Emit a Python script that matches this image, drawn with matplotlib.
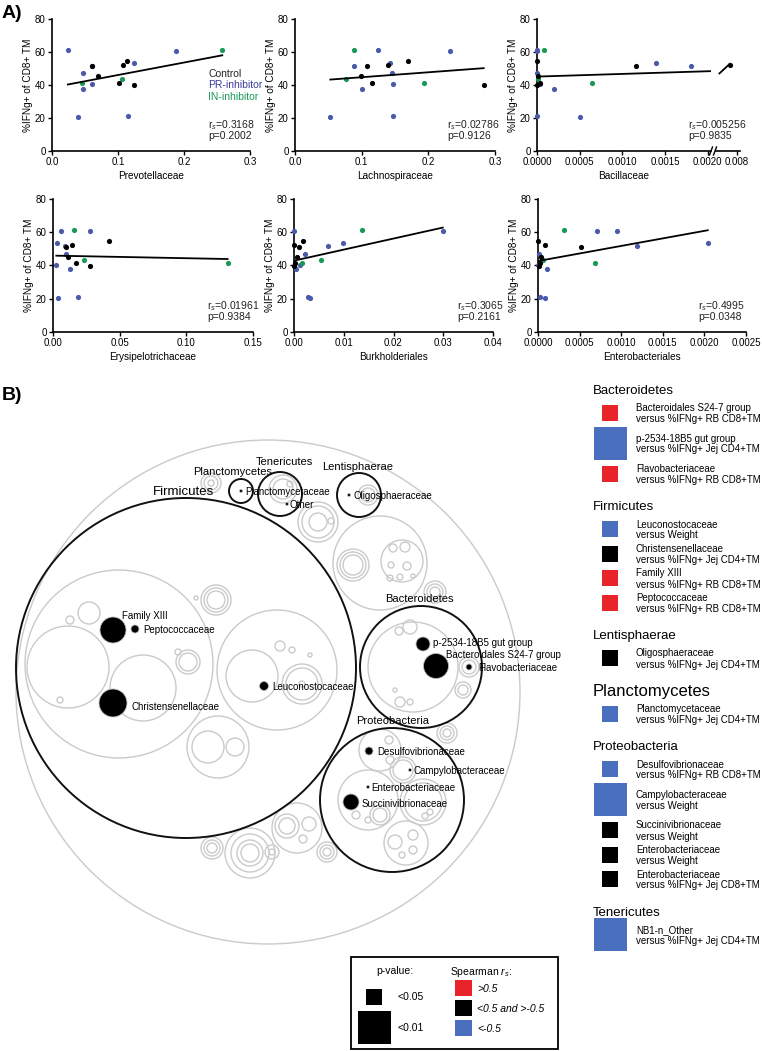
import matplotlib
matplotlib.use('Agg')
import matplotlib.pyplot as plt
from matplotlib.patches import Circle, Rectangle
import numpy as np

plt.rcParams['font.family'] = ['Liberation Sans', 'DejaVu Sans']
plt.rcParams['mathtext.fontset'] = 'custom'
plt.rcParams['mathtext.rm'] = 'Liberation Sans'
plt.rcParams['mathtext.it'] = 'Liberation Sans:italic'

W, H = 762, 1051

# ---------------- panel A data ----------------
# %IFNg+ of CD8+ TM per mouse (same mice in every panel)
y_ctrl = [54.5, 52.2, 51.4, 45.2, 41.3, 39.9]
y_pr = [61.0, 60.7, 53.4, 51.8, 47.2, 40.5, 37.7, 21.0, 20.6]
y_in = [61.5, 43.4, 41.3]

taxa = ['Prevotellaceae', 'Lachnospiraceae', 'Bacillaceae',
        'Erysipelotrichaceae', 'Burkholderiales', 'Enterobacteriales']

x_ctrl = [
    [0.114, 0.107, 0.061, 0.069, 0.102, 0.124],
    [0.170, 0.140, 0.108, 0.099, 0.116, 0.283],
    [0.0, 0.0078, 0.00116, 0.00001, 0.00003, 0.0],
    [0.042, 0.0145, 0.010, 0.011, 0.0175, 0.0275],
    [0.0019, 0.0001, 0.0011, 0.0007, 0.0003, 0.0],
    [0.0, 0.00009, 0.00052, 0.00004, 0.00002, 0.00001],
]
x_pr = [
    [0.024, 0.188, 0.124, 0.060, 0.047, 0.060, 0.047, 0.115, 0.039],
    [0.124, 0.232, 0.142, 0.088, 0.146, 0.147, 0.100, 0.147, 0.053],
    [0.0, 0.0, 0.00140, 0.00180, 0.0, 0.00004, 0.00020, 0.0, 0.00050],
    [0.006, 0.028, 0.003, 0.009, 0.010, 0.0025, 0.013, 0.019, 0.004],
    [0.0001, 0.0299, 0.0099, 0.0069, 0.0023, 0.0012, 0.0005, 0.0028, 0.0033],
    [0.00095, 0.00071, 0.00204, 0.00119, 0.00001, 0.0, 0.00011, 0.00002, 0.00008],
]
x_in = [
    [0.258, 0.106, 0.045],
    [0.088, 0.076, 0.193],
    [0.00008, 0.00001, 0.00064],
    [0.016, 0.0235, 0.131],
    [0.0136, 0.0054, 0.0017],
    [0.00031, 0.00006, 0.00068],
]
# regression line: y at smallest x and at largest x
fit_ends = [(40.3, 58.0), (43.3, 50.2), (45.1, 48.4),
            (45.9, 43.9), (42.9, 62.8), (42.7, 61.2)]
bac_main_end = 0.00204
bac_break_fit = ([0.0075, 0.0078], [47.0, 52.8])
r_s = ['0.3168', '0.02786', '0.005256', '0.01961', '0.3065', '0.4995']
p_val = ['0.2002', '0.9126', '0.9835', '0.9384', '0.2161', '0.0348']
x_max = [0.3, 0.3, 0.002, 0.15, 0.04, 0.0025]
x_step = [0.1, 0.1, 0.0005, 0.05, 0.01, 0.0005]
x_dec = [1, 1, 4, 2, 2, 4]

C_CTRL, C_PR, C_IN = 'black', '#4a5aa8', '#179a55'

fig = plt.figure(figsize=(W / 100, H / 100), dpi=100)

axb = fig.add_axes([0, 0, 1, 1])
axb.set_xlim(0, W)
axb.set_ylim(H, 0)
axb.axis('off')
axb.patch.set_alpha(0)


def px_axes(l, t, r, b):
    a = fig.add_axes([l / W, 1 - b / H, (r - l) / W, (b - t) / H])
    a.patch.set_alpha(0)
    return a


boxes = [(52, 19, 250, 151), (295, 19, 495, 151), (537, 19, 711, 151),
         (53, 199, 253, 332), (294, 199, 493, 332), (538, 199, 746, 332)]
note_x = [0.79, 0.76, 0.87, 0.77, 0.82, 0.77]


def style(ax):
    for s in ['top', 'right']:
        ax.spines[s].set_visible(False)
    for s in ['left', 'bottom']:
        ax.spines[s].set_linewidth(1.2)
    ax.tick_params(direction='out', length=3, width=1, labelsize=7, pad=1.5)


for i, name in enumerate(taxa):
    ax = px_axes(*boxes[i])
    style(ax)
    ax.scatter(x_pr[i], y_pr, s=14, color=C_PR, lw=0, zorder=3, clip_on=False)
    ax.scatter(x_in[i], y_in, s=14, color=C_IN, lw=0, zorder=3, clip_on=False)
    ax.scatter(x_ctrl[i], y_ctrl, s=14, color=C_CTRL, lw=0, zorder=4, clip_on=False)
    allx = x_ctrl[i] + x_pr[i] + x_in[i]
    x0, x1 = min(allx), max(allx)
    if name == 'Bacillaceae':
        y0, y1 = fit_ends[i]
        ax.plot([x0, bac_main_end], [y0, y1], color='black', lw=1.3, zorder=5)
        ax.set_xlim(0, bac_main_end)
    else:
        ax.plot([x0, x1], fit_ends[i], color='black', lw=1.3, zorder=5)
        ax.set_xlim(0, x_max[i])
    ax.set_ylim(0, 80)
    ticks = np.arange(0, x_max[i] + x_step[i] / 2, x_step[i])
    ax.set_xticks(ticks)
    ax.set_xticklabels([f'{t:.{x_dec[i]}f}' for t in ticks])
    ax.set_yticks([0, 20, 40, 60, 80])
    ax.set_xlabel(name, fontsize=7.2, labelpad=3)
    ax.set_ylabel('%IFNg+ of CD8+ TM', fontsize=7.2, labelpad=1)
    ax.text(note_x[i], 0.17, r'r$_s$=' + r_s[i], transform=ax.transAxes, fontsize=7.5,
            color='#222222', zorder=6)
    ax.text(note_x[i], 0.09, 'p=' + p_val[i], transform=ax.transAxes, fontsize=7.5,
            color='#222222', zorder=6)
    if i == 0:
        for k, (lab, col) in enumerate([('Control', '#222222'), ('PR-inhibitor', '#3b3b9c'),
                                        ('IN-inhibitor', C_IN)]):
            ax.text(0.79, 0.56 - k * 0.085, lab, transform=ax.transAxes, fontsize=7.5, color=col)
    if name == 'Bacillaceae':
        # broken x axis: short extra segment for the one high value
        axk = px_axes(716, 19, 740, 151)
        style(axk)
        axk.spines['left'].set_visible(False)
        axk.set_yticks([])
        axk.set_ylim(0, 80)
        axk.set_xlim(0.0074, 0.0081)
        axk.set_xticks([0.008])
        axk.set_xticklabels(['0.008'])
        bx = [v for v in allx if v > bac_main_end]
        by = [yv for v, yv in zip(allx, y_ctrl + y_pr + y_in) if v > bac_main_end]
        axk.scatter(bx, by, s=14, color=C_CTRL, lw=0, zorder=4, clip_on=False)
        axk.plot(bac_break_fit[0], bac_break_fit[1], color='black', lw=1.3, clip_on=False)
        for bxp in (711, 715):
            axb.plot([bxp - 1.5, bxp + 1.5], [155, 147], color='black', lw=1)

axb.text(2, 14, 'A)', fontsize=14, fontweight='bold', va='center')
axb.text(2, 395, 'B)', fontsize=14, fontweight='bold', va='center')

# ---------------- panel B data ----------------
phyla = ['Firmicutes', 'Bacteroidetes', 'Proteobacteria', 'Planctomycetes', 'Tenericutes', 'Lentisphaerae']
ph_xy = [(186, 668), (421, 667), (392, 800), (241, 491), (280, 494), (359, 495)]
ph_r = [170, 61, 72, 12, 22, 22]
ph_lab_off = [(-3, -1), (-2, -2), (1, -2), (-8, -2), (4, -5), (-1, -1)]
ph_fs = [9.5, 8, 8, 8, 8, 8]

families = ['Family XIII', 'Peptococcaceae', 'Christensenellaceae', 'Leuconostocaceae',
            'p-2534-18B5 gut group', 'Bacteroidales S24-7 group', 'Flavobacteriaceae',
            'Desulfovibrionaceae', 'Campylobacteraceae', 'Enterobacteriaceae',
            'Succinivibrionaceae', 'Planctomycetaceae', 'Other', 'Oligosphaeraceae']
fam_size = [13, 4, 14, 4.5, 7, 12.5, 3, 4, 1.5, 1.5, 8, 1.5, 1.5, 1.5]
fam_xy = [(113, 630), (135, 629), (113, 703), (264, 686), (423, 644), (436, 666), (469, 667),
          (369, 751), (410, 770), (368, 787), (351, 802), (241, 491), (287, 504), (349, 495)]
fam_lab_off = [(9, -15), (8, 0), (19, 3), (8, 0), (10, -2), (10, -12), (9, 0),
               (8, 0), (3, 0), (3, 0), (11, 1), (4, 0), (3, 0), (4, 0)]

# rings of the unlabelled taxa (circle packing layout)
rings = [
    (268, 692, 252),
    (119, 664, 94), (68, 667, 41), (143, 688, 33), (89, 613, 11), (70, 620, 4), (60, 700, 3),
    (188, 662, 12), (188, 662, 9), (178, 652, 3),
    (216, 600, 15), (216, 600, 12), (216, 600, 9), (196, 598, 2),
    (277, 670, 60), (252, 676, 26), (302, 684, 20), (302, 684, 16), (302, 684, 3),
    (280, 646, 5), (292, 650, 3), (310, 655, 2),
    (218, 747, 31), (208, 747, 16), (235, 747, 9),
    (318, 522, 20), (318, 522, 16), (318, 522, 9), (331, 521, 3),
    (380, 563, 47), (353, 565, 16), (353, 565, 13), (353, 565, 10),
    (402, 561, 21), (393, 548, 4), (405, 547, 5), (391, 565, 3), (407, 566, 4),
    (400, 577, 3), (390, 578, 3), (413, 576, 2),
    (435, 592, 11), (435, 592, 8), (435, 592, 5),
    (211, 483, 10), (211, 483, 7), (211, 483, 3),
    (212, 848, 11), (212, 848, 8), (212, 848, 5),
    (250, 853, 25), (250, 853, 19), (250, 853, 13), (250, 853, 9), (272, 852, 7), (272, 852, 3),
    (297, 828, 25), (287, 826, 12), (287, 826, 8), (309, 824, 7), (303, 839, 4),
    (327, 852, 10), (327, 852, 7), (327, 852, 4),
    (447, 733, 10), (447, 733, 7), (447, 733, 4),
    (413, 667, 45), (399, 631, 4), (410, 627, 7), (469, 667, 10), (469, 667, 7),
    (463, 690, 8), (463, 690, 5), (400, 702, 5), (410, 702, 3), (395, 690, 2),
    (380, 750, 21), (389, 740, 4), (390, 760, 4), (403, 770, 13), (403, 770, 10),
    (368, 800, 30), (356, 815, 4), (380, 815, 10), (380, 815, 7), (368, 820, 3),
    (423, 802, 23), (423, 802, 19), (430, 812, 3), (425, 816, 3),
    (406, 843, 22), (395, 842, 7), (413, 835, 5), (413, 850, 4), (402, 855, 3),
    (283, 489, 14), (283, 489, 10), (290, 484, 3), (368, 495, 10), (368, 495, 7),
]

for cx, cy, r in rings:
    axb.add_patch(Circle((cx, cy), r, fill=False, ec='#cacaca', lw=1.0))

for name, (cx, cy), r, (dx, dy), fs in zip(phyla, ph_xy, ph_r, ph_lab_off, ph_fs):
    axb.add_patch(Circle((cx, cy), r, fill=False, ec='#111111', lw=1.4, zorder=3))
    axb.text(cx + dx, cy - r - 2 + dy, name, fontsize=fs, ha='center', va='baseline', zorder=4)

for name, (cx, cy), r, (dx, dy) in zip(families, fam_xy, fam_size, fam_lab_off):
    axb.add_patch(Circle((cx, cy), r, fc='black', ec='#bbbbbb', lw=0.6, zorder=4))
    axb.text(cx + dx, cy + dy, name, fontsize=7, ha='left', va='center_baseline', zorder=5)

# ---------------- right legend ----------------
leg_phylum = ['Bacteroidetes'] * 3 + ['Firmicutes'] * 4 + ['Lentisphaerae', 'Planctomycetes'] + \
             ['Proteobacteria'] * 5 + ['Tenericutes']
leg_family = ['Bacteroidales S24-7 group', 'p-2534-18B5 gut group', 'Flavobacteriaceae',
              'Leuconostocaceae', 'Christensenellaceae', 'Family XIII', 'Peptococcaceae',
              'Oligosphaeraceae', 'Planctomycetaceae', 'Desulfovibrionaceae', 'Campylobacteraceae',
              'Succinivibrionaceae', 'Enterobacteriaceae', 'Enterobacteriaceae', 'NB1-n_Other']
leg_versus = ['%IFNg+ RB CD8+TM', '%IFNg+ Jej CD4+TM', '%IFNg+ RB CD8+TM',
              'Weight', '%IFNg+ Jej CD4+TM', '%IFNg+ RB CD8+TM', '%IFNg+ RB CD8+TM',
              '%IFNg+ Jej CD4+TM', '%IFNg+ Jej CD4+TM', '%IFNg+ RB CD8+TM', 'Weight',
              'Weight', 'Weight', '%IFNg+ Jej CD8+TM', '%IFNg+ Jej CD4+TM']
leg_rs = ['>0.5', '<-0.5', '>0.5', '<-0.5', 'mid', '>0.5', '>0.5', 'mid', '<-0.5',
          '<-0.5', '<-0.5', 'mid', 'mid', 'mid', '<-0.5']
leg_p = ['<0.05', '<0.01', '<0.05', '<0.05', '<0.05', '<0.05', '<0.05', '<0.05', '<0.05',
         '<0.05', '<0.01', '<0.05', '<0.05', '<0.05', '<0.01']
rs_colors = {'>0.5': '#e8242a', 'mid': 'black', '<-0.5': '#4a6fbf'}
p_sizes = {'<0.05': 16, '<0.01': 33}

y = 389
prev, prev_big = None, False
for ph, fam, vs, rs, p in zip(leg_phylum, leg_family, leg_versus, leg_rs, leg_p):
    big = p == '<0.01'
    if ph != prev:
        if prev is not None:
            y += 32
        axb.text(593, y, ph, fontsize=12 if ph == 'Planctomycetes' else 9.5, va='center_baseline')
        y += 23.5
    else:
        y += 30.5 if (big or prev_big) else 24.5
    s = p_sizes[p]
    axb.add_patch(Rectangle((610 - s / 2, y - s / 2), s, s, fc=rs_colors[rs], ec='none'))
    axb.text(636, y - 5.5, fam, fontsize=7, va='center_baseline')
    axb.text(636, y + 5.5, 'versus ' + vs, fontsize=7, va='center_baseline')
    prev, prev_big = ph, big

# ---------------- bottom key ----------------
axb.add_patch(Rectangle((351, 957), 207, 92, fill=False, ec='black', lw=1.3))
axb.text(395, 970, 'p-value:', fontsize=7.5, ha='center', va='center_baseline')
for p, yc in zip(['<0.05', '<0.01'], [996.5, 1027]):
    s = p_sizes[p]
    axb.add_patch(Rectangle((374 - s / 2, yc - s / 2), s, s, fc='black', ec='none'))
    axb.text(397, yc, p, fontsize=7.5, va='center_baseline')
axb.text(450, 970, r'Spearman $\it{r_s}$:', fontsize=7.5, va='center_baseline')
for rs, lab, yc in zip(['>0.5', 'mid', '<-0.5'], ['>0.5', '<0.5 and >-0.5', '<-0.5'], [988, 1008, 1028]):
    axb.add_patch(Rectangle((455, yc - 8), 17, 16, fc=rs_colors[rs], ec='none'))
    axb.text(477, yc, lab, fontsize=7.5, style='italic', va='center_baseline')

fig.savefig('out.png', dpi=100)
